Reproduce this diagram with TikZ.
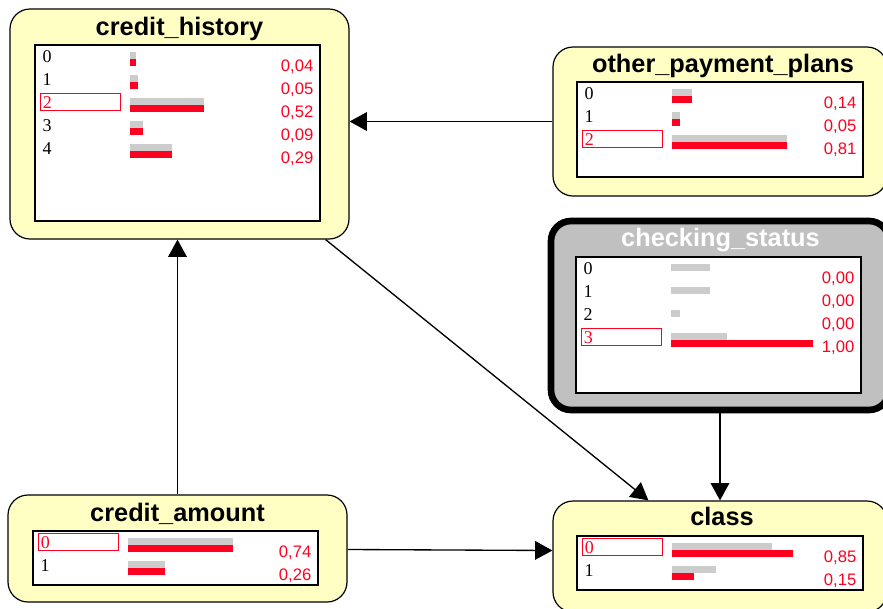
\documentclass[tikz,border=0pt]{standalone}
\usepackage{fontspec}
\setmainfont{Liberation Serif}
\setsansfont{Liberation Sans}
\usetikzlibrary{arrows.meta,positioning,calc,fit}
\definecolor{NetYellow}{RGB}{255,255,196}
\definecolor{NetRed}{RGB}{255,0,32}
\definecolor{NetGrey}{RGB}{204,204,204}
\definecolor{NetEvidence}{RGB}{192,192,192}

% one line per state: label, prior bar, posterior bar, value, label style
\newcommand{\staterows}[2]{%
  \foreach \lab/\gp/\rp/\val/\sty [count=\n from 0] in {#2} {
    \node[\sty] (#1-l\n) at ($(#1.north west)+(6,{12+23*\n})$) {\lab};
    \fill[bargrey] ($(#1.north west)+(96,{8+23*\n})$) rectangle ++({142*\gp},7);
    \ifdim\rp pt>0pt
      \fill[barred] ($(#1.north west)+(96,{15+23*\n})$) rectangle ++({142*\rp},7);
    \fi
    \node[val] (#1-v\n) at ($(#1.north east)+(-7,{22+23*\n})$) {\val};
  }}

\begin{document}
\begin{tikzpicture}[
    x=0.75pt,y=-0.75pt,
    panel/.style={draw,line width=0.9pt,rounded corners=15pt,fill=NetYellow,inner sep=0pt},
    evidence/.style={panel,line width=5pt,fill=NetEvidence},
    states/.style={draw,line width=0.9pt,fill=white,inner sep=0pt},
    title/.style={anchor=base,inner sep=0pt,font=\sffamily\bfseries\fontsize{19}{22}\selectfont},
    lab/.style={anchor=west,text width=57pt,inner xsep=1.5pt,inner ysep=0pt,minimum height=12.75pt,font=\fontsize{13.5}{15}\selectfont},
    sel/.style={lab,draw=NetRed,line width=0.8pt,text=NetRed},
    val/.style={anchor=east,inner sep=0pt,text=NetRed,font=\sffamily\fontsize{12.5}{14}\selectfont},
    bargrey/.style={fill=NetGrey},
    barred/.style={fill=NetRed},
    arr/.style={-{Triangle[length=13pt,width=14pt]},line width=1pt}
  ]
    \useasboundingbox (0,0) rectangle (883,608);

    % panels
    \node[panel,fit={(10,9) (349,239)}] (history) {};
    \node[states,fit={(35,45) (320,221)}] (histT) {};
    \node[title] (histN) at ($(histT.north)+(2,-9)$) {credit\_history};

    \node[panel,fit={(553,47) (887,196)}] (plans) {};
    \node[states,fit={(577,82) (863,177)}] (planT) {};
    \node[title] (planN) at ($(planT.north)+(3,-9)$) {other\_payment\_plans};

    \node[evidence,fit={(551,221) (889,410)}] (checking) {};
    \node[states,fit={(576,257) (861,393)}] (checkT) {};
    \node[title,text=white] (checkN) at ($(checkT.north)+(2,-10)$) {checking\_status};

    \node[panel,fit={(8,495) (347,602)}] (amount) {};
    \node[states,fit={(33,531) (318,585)}] (amountT) {};
    \node[title] (amountN) at ($(amountT.north)+(2,-9)$) {credit\_amount};

    \node[panel,fit={(553,501) (887,612)}] (class) {};
    \node[states,fit={(577,536) (863,590)}] (classT) {};
    \node[title] (classN) at ($(classT.north)+(2,-10)$) {class};

    % states and bars
    \staterows{histT}{0/.04/.04/{0,04}/lab, 1/.05/.05/{0,05}/lab, 2/.52/.52/{0,52}/sel, 3/.09/.09/{0,09}/lab, 4/.29/.29/{0,29}/lab}
    \staterows{planT}{0/.14/.14/{0,14}/lab, 1/.05/.05/{0,05}/lab, 2/.81/.81/{0,81}/sel}
    \staterows{checkT}{0/.274/0/{0,00}/lab, 1/.269/0/{0,00}/lab, 2/.063/0/{0,00}/lab, 3/.394/1/{1,00}/sel}
    \staterows{amountT}{0/.74/.74/{0,74}/sel, 1/.26/.26/{0,26}/lab}
    \staterows{classT}{0/.70/.85/{0,85}/sel, 1/.31/.15/{0,15}/lab}

    % links
    \draw[arr] (plans.west) -- (plans.west -| history.east);
    \draw[arr] (amount.north) -- (amount.north |- history.south);
    \draw[arr] ($(history.south east)+(-24,0)$) -- ($(class.north west)+(96,0)$);
    \draw[arr] (checking.south) -- (checking.south |- class.north);
    \draw[arr] ($(amount.east)+(0,1)$) -- ($(class.west)+(0,-6)$);
\end{tikzpicture}
\end{document}
